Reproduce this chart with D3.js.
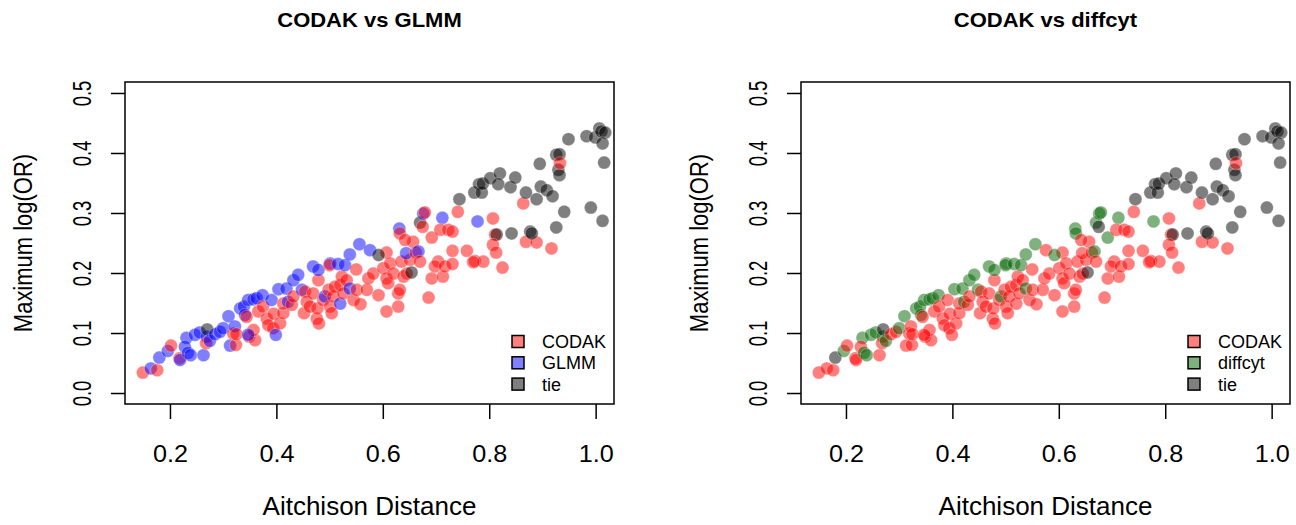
<!DOCTYPE html>
<html>
<head>
    <script src="https://cdnjs.cloudflare.com/ajax/libs/d3/7.8.5/d3.min.js"></script>
    <style>
        body { margin: 0; background: #fff; }
        text { font-family: "Liberation Sans", Arial, Helvetica, sans-serif; fill: #000; }
        .box { fill: none; stroke: #000; stroke-width: 1.5; }
        .tick line { stroke: #000; stroke-width: 1.5; }
        .domain { display: none; }
    </style>
</head>
<body>
    <script>
        // Aitchison distance (x) and maximum log(OR) (y)
        const xVals = [
            0.149, 0.164, 0.176, 0.180, 0.196, 0.202, 0.218, 0.219, 0.231, 0.228,
            0.234, 0.239, 0.263, 0.247, 0.256, 0.269, 0.270, 0.268, 0.275, 0.285,
            0.294, 0.300, 0.310, 0.313, 0.324, 0.319, 0.322, 0.325, 0.332, 0.339,
            0.347, 0.357, 0.363, 0.374, 0.341, 0.344, 0.349, 0.360, 0.357, 0.347,
            0.366, 0.375, 0.382, 0.385, 0.394, 0.399, 0.395, 0.407, 0.413, 0.391,
            0.404, 0.413, 0.419, 0.422, 0.429, 0.432, 0.432, 0.441, 0.448, 0.452,
            0.454, 0.457, 0.469, 0.479, 0.479, 0.469, 0.463, 0.476, 0.480, 0.477,
            0.488, 0.491, 0.501, 0.504, 0.498, 0.507, 0.510, 0.520, 0.520, 0.523,
            0.526, 0.532, 0.538, 0.545, 0.558, 0.551, 0.501, 0.500, 0.516, 0.529,
            0.538, 0.556, 0.576, 0.550, 0.570, 0.573, 0.582, 0.592, 0.601, 0.607,
            0.607, 0.607, 0.610, 0.614, 0.620, 0.629, 0.629, 0.632, 0.635, 0.639,
            0.645, 0.651, 0.592, 0.654, 0.644, 0.657, 0.662, 0.667, 0.670, 0.631,
            0.632, 0.642, 0.670, 0.675, 0.676, 0.679, 0.712, 0.692, 0.708, 0.723,
            0.731, 0.741, 0.686, 0.692, 0.704, 0.698, 0.713, 0.717, 0.731, 0.731,
            0.758, 0.773, 0.789, 0.770, 0.778, 0.807, 0.811, 0.814, 0.807, 0.813,
            0.825, 0.864, 0.869, 0.889, 0.917, 0.842, 0.877, 0.880, 0.744, 0.772,
            0.781, 0.786, 0.788, 0.802, 0.820, 0.817, 0.840, 0.849, 0.869, 0.889,
            0.897, 0.908, 0.919, 0.895, 0.926, 0.932, 0.930, 0.932, 0.933, 0.949,
            0.941, 0.926, 0.983, 0.991, 0.999, 1.007, 1.011, 1.018, 1.013, 1.016,
            1.013
        ];
        const yVals = [
            0.034, 0.041, 0.038, 0.059, 0.070, 0.079, 0.058, 0.055, 0.092, 0.077,
            0.067, 0.063, 0.063, 0.097, 0.101, 0.094, 0.106, 0.083, 0.087, 0.098,
            0.102, 0.108, 0.128, 0.079, 0.080, 0.099, 0.111, 0.098, 0.141, 0.144,
            0.155, 0.156, 0.158, 0.163, 0.130, 0.127, 0.094, 0.088, 0.105, 0.097,
            0.136, 0.144, 0.124, 0.113, 0.108, 0.097, 0.132, 0.116, 0.133, 0.155,
            0.173, 0.149, 0.174, 0.152, 0.147, 0.161, 0.188, 0.197, 0.172, 0.133,
            0.169, 0.152, 0.211, 0.188, 0.205, 0.166, 0.144, 0.124, 0.116, 0.141,
            0.155, 0.161, 0.144, 0.133, 0.172, 0.161, 0.177, 0.180, 0.149, 0.194,
            0.166, 0.188, 0.174, 0.155, 0.148, 0.172, 0.216, 0.213, 0.215, 0.213,
            0.231, 0.248, 0.238, 0.206, 0.172, 0.191, 0.199, 0.163, 0.208, 0.234,
            0.191, 0.136, 0.183, 0.216, 0.199, 0.144, 0.166, 0.172, 0.219, 0.194,
            0.199, 0.222, 0.230, 0.201, 0.233, 0.252, 0.234, 0.236, 0.219, 0.274,
            0.266, 0.255, 0.284, 0.277, 0.299, 0.301, 0.292, 0.259, 0.272, 0.272,
            0.269, 0.302, 0.159, 0.191, 0.219, 0.211, 0.194, 0.211, 0.215, 0.237,
            0.237, 0.220, 0.219, 0.218, 0.286, 0.291, 0.264, 0.264, 0.247, 0.234,
            0.209, 0.316, 0.252, 0.251, 0.241, 0.266, 0.269, 0.266, 0.323, 0.334,
            0.348, 0.334, 0.349, 0.358, 0.366, 0.348, 0.343, 0.359, 0.334, 0.323,
            0.344, 0.338, 0.328, 0.382, 0.397, 0.398, 0.372, 0.363, 0.383, 0.423,
            0.302, 0.276, 0.428, 0.309, 0.426, 0.441, 0.436, 0.434, 0.416, 0.384,
            0.287
        ];

        // winner per point: C = CODAK, G = GLMM, D = diffcyt, T = tie
        const winGLMM = [
            "C","G","C","G","G","C","C","G","G","G",
            "G","G","G","G","G","G","T","C","G","G",
            "G","G","G","G","C","C","G","C","G","G",
            "G","G","G","G","G","C","C","C","C","G",
            "C","C","C","C","C","G","C","C","C","G",
            "G","C","G","G","C","C","G","G","G","C",
            "C","C","G","C","G","C","C","C","C","C",
            "C","G","C","C","C","C","C","C","G","C",
            "C","C","G","C","C","C","G","C","G","G",
            "G","G","G","C","C","C","C","C","C","C",
            "C","C","C","C","C","C","C","C","C","C",
            "C","C","T","T","G","C","C","G","C","G",
            "C","C","T","C","G","C","G","C","C","C",
            "C","C","C","C","C","C","C","C","C","C",
            "C","C","C","C","G","C","C","T","C","C",
            "C","C","C","C","C","T","T","T","T","T",
            "T","T","T","T","T","T","T","T","T","T",
            "T","T","T","T","T","T","T","T","C","T",
            "T","T","T","T","T","T","T","T","T","T",
            "T"
        ];
        const winDiffcyt = [
            "C","C","C","T","D","C","C","C","D","C",
            "D","D","C","D","D","D","T","C","D","C",
            "C","D","D","C","C","C","C","C","D","D",
            "D","D","D","D","D","C","C","C","C","C",
            "C","C","C","C","C","C","C","C","C","C",
            "D","C","D","D","C","C","D","D","D","C",
            "C","C","D","C","D","C","C","C","C","C",
            "C","D","C","C","C","C","C","C","C","C",
            "C","C","D","C","C","C","D","D","D","D",
            "D","D","C","C","C","C","C","C","C","C",
            "C","C","C","C","C","C","C","C","C","C",
            "C","C","D","T","C","C","C","D","C","D",
            "D","C","D","T","D","D","D","D","C","C",
            "C","C","C","C","C","C","C","C","C","C",
            "C","C","C","C","D","C","C","T","C","C",
            "C","C","C","C","C","T","T","T","T","T",
            "T","T","T","T","T","T","T","T","T","T",
            "T","T","T","T","T","T","T","T","C","T",
            "T","T","T","T","T","T","T","T","T","T",
            "T"
        ];

        const xTicks = [0.2, 0.4, 0.6, 0.8, 1.0];
        const yTicks = [0.0, 0.1, 0.2, 0.3, 0.4, 0.5];

        const colors = {
            C: "rgba(255,0,0,0.5)",
            G: "rgba(0,0,255,0.5)",
            D: "rgba(0,100,0,0.5)",
            T: "rgba(0,0,0,0.5)"
        };

        const panels = [
            { left: 125, title: "CODAK vs GLMM", win: winGLMM, legend: [["C", "CODAK"], ["G", "GLMM"], ["T", "tie"]] },
            { left: 801, title: "CODAK vs diffcyt", win: winDiffcyt, legend: [["C", "CODAK"], ["D", "diffcyt"], ["T", "tie"]] }
        ];

        const boxTop = 82, boxW = 489, boxH = 322;

        const svg = d3.select("body").append("svg")
            .attr("width", 1296)
            .attr("height", 525);

        const x = d3.scaleLinear().domain([0.1155, 1.0345]).range([0, boxW]);
        const y = d3.scaleLinear().domain([-0.0183, 0.5183]).range([boxH, 0]);

        panels.forEach(p => {
            const g = svg.append("g").attr("transform", `translate(${p.left},${boxTop})`);

            // points
            g.selectAll("circle")
                .data(xVals.map((v, i) => ({ x: v, y: yVals[i], w: p.win[i] })))
                .enter()
                .append("circle")
                .attr("cx", d => x(d.x))
                .attr("cy", d => y(d.y))
                .attr("r", 6.5)
                .attr("fill", d => colors[d.w])
                .attr("stroke", "#fff")
                .attr("stroke-opacity", 0.5)
                .attr("stroke-width", 0.6);

            g.append("rect").attr("class", "box")
                .attr("width", boxW).attr("height", boxH);

            // x axis
            const gx = g.append("g")
                .attr("transform", `translate(0,${boxH})`)
                .call(d3.axisBottom(x).tickValues(xTicks).tickSize(15).tickPadding(26)
                    .tickFormat(d3.format(".1f")));
            gx.selectAll("text")
                .style("font-size", "24px")
                .attr("transform", "scale(1.05,1)");

            // y axis, labels parallel to the axis
            const gy = g.append("g")
                .call(d3.axisLeft(y).tickValues(yTicks).tickSize(14)
                    .tickFormat(d3.format(".1f")));
            gy.selectAll("text")
                .attr("x", 0).attr("dy", null)
                .attr("text-anchor", "middle")
                .style("font-size", "18.5px")
                .attr("transform", "translate(-34,0) scale(1.35,1) rotate(-90)");

            g.append("text")
                .attr("transform", `translate(${boxW / 2},-55) scale(1.1,1)`)
                .attr("text-anchor", "middle")
                .style("font-size", "20px")
                .style("font-weight", "bold")
                .text(p.title);

            g.append("text")
                .attr("x", boxW / 2).attr("y", 433)
                .attr("text-anchor", "middle")
                .style("font-size", "26px")
                .text("Aitchison Distance");

            g.append("text")
                .attr("transform", `translate(-93,${boxH / 2}) scale(1.15,1) rotate(-90)`)
                .attr("text-anchor", "middle")
                .style("font-size", "22px")
                .text("Maximum log(OR)");

            // legend
            const lg = g.append("g").attr("transform", "translate(387,259.5)");
            p.legend.forEach(([k, label], i) => {
                lg.append("rect")
                    .attr("x", 0).attr("y", i * 21.3 - 6)
                    .attr("width", 12).attr("height", 12)
                    .attr("fill", colors[k])
                    .attr("stroke", "#000").attr("stroke-width", 1.5);
                lg.append("text")
                    .attr("x", 30).attr("y", i * 21.3 + 6.5)
                    .style("font-size", "18px")
                    .text(label);
            });
        });
    </script>
</body>
</html>
